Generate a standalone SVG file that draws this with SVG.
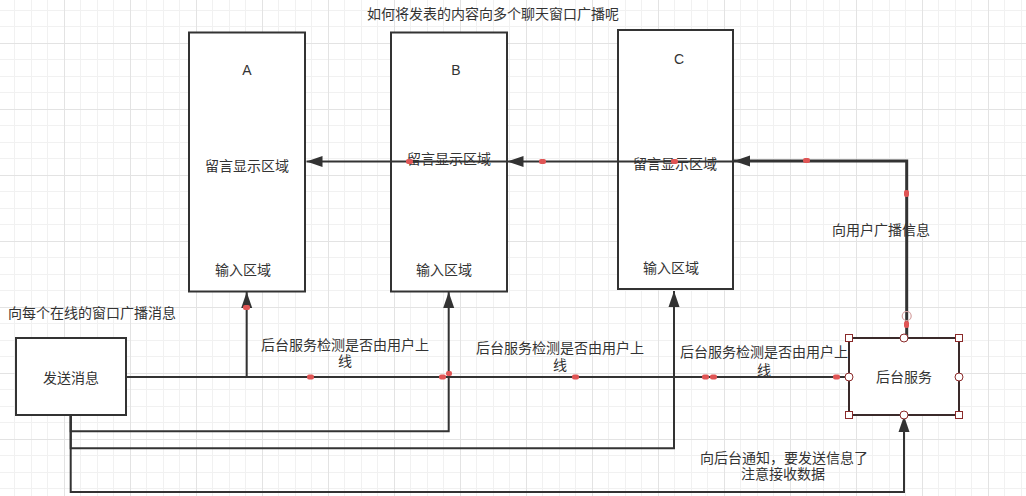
<svg xmlns="http://www.w3.org/2000/svg" width="1026" height="496" viewBox="0 0 1026 496">
<style>
text{font-family:"Liberation Sans","Noto Sans CJK SC",sans-serif;font-size:14px;fill:#333;text-anchor:middle;dominant-baseline:central}
.box{fill:#fff;stroke:#333;stroke-width:2}
.c{fill:none;stroke:#333;stroke-width:2}
.t{fill:none;stroke:#333;stroke-width:3}
.dot{fill:#e05555}
.h{fill:#fff;stroke:#8b2a2a;stroke-width:1}
</style>
<defs>
<pattern id="grid" x="64" y="43" width="66" height="66" patternUnits="userSpaceOnUse">
<rect x="0" y="0" width="66" height="66" fill="#fff"/>
<rect x="16" y="0" width="1" height="66" fill="#f1f1f1"/>
<rect x="33" y="0" width="1" height="66" fill="#f1f1f1"/>
<rect x="49" y="0" width="1" height="66" fill="#f1f1f1"/>
<rect x="0" y="16" width="66" height="1" fill="#f1f1f1"/>
<rect x="0" y="33" width="66" height="1" fill="#f1f1f1"/>
<rect x="0" y="49" width="66" height="1" fill="#f1f1f1"/>
<rect x="0" y="0" width="1" height="66" fill="#e3e3e3"/>
<rect x="0" y="0" width="66" height="1" fill="#e3e3e3"/>
</pattern>
<marker id="arr" markerUnits="userSpaceOnUse" markerWidth="20" markerHeight="14" refX="16" refY="6" orient="auto">
<path d="M0,0.5 L16,6 L0,11.5 Z" fill="#333"/>
</marker>
</defs>
<rect width="1026" height="496" fill="url(#grid)"/>
<text x="493" y="14">如何将发表的内容向多个聊天窗口广播呢</text>

<g id="connectors">
<path class="c" d="M126,377 H849"/>
<path class="c" d="M246.7,377 V292" marker-end="url(#arr)"/>
<path class="c" d="M70.7,415 V431.3 H448.7 V292" marker-end="url(#arr)"/>
<path class="c" d="M70.7,415 V448.3 H674 V291" marker-end="url(#arr)"/>
<path class="c" d="M70.7,415 V492 H904 V416" marker-end="url(#arr)"/>
<path class="t" d="M906.7,338 V161 H734" marker-end="url(#arr)"/>
<path class="c" d="M733,161.5 H507.5" marker-end="url(#arr)"/>
<path class="c" d="M507,161.5 H306.5" marker-end="url(#arr)"/>
<path class="c" d="M449,377 H849" stroke-width="1"/>
</g>

<g id="nodeA">
<rect class="box" x="189" y="32.5" width="116" height="259"/>
<text x="247" y="70">A</text>
<text x="247" y="166">留言显示区域</text>
<text x="243" y="270">输入区域</text>
</g>
<g id="nodeB">
<rect class="box" x="391" y="32.5" width="116" height="259"/>
<text x="456" y="70">B</text>
<text x="444" y="270">输入区域</text>
</g>
<g id="nodeC">
<rect class="box" x="618" y="30" width="115" height="259"/>
<text x="679" y="59">C</text>
<text x="671" y="268">输入区域</text>
</g>
<path d="M507,161.5 H391 M733,161.5 H618" stroke="#333" stroke-width="2"/>
<text x="449" y="159">留言显示区域</text>
<text x="675" y="164">留言显示区域</text>

<g id="nodeSend">
<rect class="box" x="16" y="338" width="110" height="77"/>
<text x="71" y="378">发送消息</text>
</g>
<g id="nodeServer">
<rect x="849" y="338" width="110" height="77" fill="#fff" stroke="#3a2a2a" stroke-width="2"/>
<text x="904" y="377">后台服务</text>
</g>

<g id="labels">
<text x="92" y="313">向每个在线的窗口广播消息</text>
<text x="345" y="345">后台服务检测是否由用户上</text>
<text x="345" y="361">线</text>
<text x="560" y="348">后台服务检测是否由用户上</text>
<text x="560" y="365">线</text>
<text x="764" y="352">后台服务检测是否由用户上</text>
<text x="764" y="370">线</text>
<text x="881" y="230">向用户广播信息</text>
<text x="784" y="458">向后台通知，要发送信息了</text>
<text x="783" y="474">注意接收数据</text>
</g>

<g id="handles">
<rect class="dot" x="406" y="159" width="7" height="5" rx="2"/>
<rect class="dot" x="539" y="159" width="7" height="5" rx="2"/>
<rect class="dot" x="671" y="159" width="7" height="5" rx="2"/>
<rect class="dot" x="803" y="158" width="7" height="5" rx="2"/>
<rect class="dot" x="904" y="190" width="5" height="7" rx="2"/>
<rect class="dot" x="904" y="321" width="5" height="7" rx="2"/>
<rect class="dot" x="243" y="305" width="7" height="5" rx="2"/>
<rect class="dot" x="307" y="374.5" width="7" height="5" rx="2"/>
<rect class="dot" x="439" y="374.5" width="7" height="5" rx="2"/>
<rect class="dot" x="446" y="371" width="6" height="5" rx="2"/>
<rect class="dot" x="572" y="374.5" width="7" height="5" rx="2"/>
<rect class="dot" x="702" y="374.5" width="7" height="5" rx="2"/>
<rect class="dot" x="710" y="374.5" width="7" height="5" rx="2"/>
<rect class="dot" x="833" y="374.5" width="7" height="5" rx="2"/>
<circle cx="906.7" cy="316" r="4.5" fill="none" stroke="#d4a0a0" stroke-width="1.2"/>
<rect class="h" x="845.5" y="334.5" width="7" height="7"/>
<rect class="h" x="955.5" y="334.5" width="7" height="7"/>
<rect class="h" x="845.5" y="411.5" width="7" height="7"/>
<rect class="h" x="955.5" y="411.5" width="7" height="7"/>
<circle class="h" cx="849" cy="377" r="4"/>
<circle class="h" cx="959" cy="377" r="4"/>
<circle class="h" cx="904" cy="338" r="4"/>
<circle class="h" cx="904" cy="415" r="4"/>
</g>
</svg>
